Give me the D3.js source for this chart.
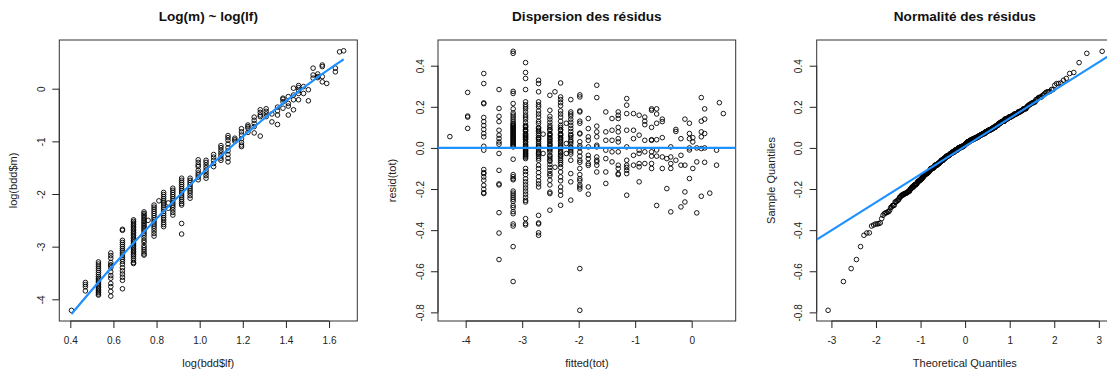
<!doctype html>
<html>
<head>
<meta charset="utf-8">
<script src="https://d3js.org/d3.v7.min.js"></script>
<style>
  body { margin: 0; background: #fff; }
  text { font-family: "Liberation Sans", Arial, sans-serif; }
</style>
</head>
<body>
<svg id="svg1" width="1107" height="374"></svg>
<script>
// ---- panel 1 : log(bdd$m) ~ log(bdd$lf), one list of log(m) per lf value
var p1Lf = [1.5, 1.6, 1.7, 1.8, 1.9, 2.0, 2.1, 2.14, 2.2, 2.25, 2.3, 2.35, 2.4, 2.5, 2.6, 2.7, 2.8, 2.9, 3.0, 3.1,
            3.2, 3.3, 3.4, 3.5, 3.6, 3.7, 3.8, 3.9, 4.0, 4.1, 4.2, 4.3, 4.4, 4.5, 4.6, 4.7, 4.8, 4.9, 5.1, 5.2, 5.3];
var p1LogM = [
  [-4.21],
  [-3.68, -3.72, -3.76, -3.84],
  [-3.29, -3.33, -3.37, -3.41, -3.45, -3.49, -3.53, -3.57, -3.60, -3.63, -3.66, -3.69, -3.72, -3.75, -3.78, -3.81, -3.84, -3.87, -3.90, -3.92],
  [-3.12, -3.17, -3.22, -3.30, -3.35, -3.35, -3.40, -3.48, -3.55, -3.60, -3.70, -3.76, -3.85, -3.94],
  [-2.67, -2.69, -2.88, -2.92, -2.96, -3.00, -3.04, -3.08, -3.12, -3.16, -3.20, -3.24, -3.28, -3.33, -3.40, -3.46, -3.52, -3.58, -3.64, -3.80],
  [-2.49, -2.52, -2.55, -2.58, -2.61, -2.64, -2.67, -2.70, -2.73, -2.76, -2.79, -2.82, -2.85, -2.88, -2.91, -2.94, -2.97, -3.00, -3.03, -3.06, -3.09, -3.12, -3.15, -3.18, -3.22, -3.26, -3.30, -3.32],
  [-2.34, -2.37, -2.40, -2.43, -2.46, -2.49, -2.52, -2.55, -2.58, -2.61, -2.64, -2.67, -2.70, -2.74, -2.78, -2.83, -2.88, -2.92, -2.98, -3.02, -3.06, -3.10, -3.14, -3.16],
  [-2.50],
  [-2.21, -2.25, -2.29, -2.33, -2.37, -2.41, -2.45, -2.49, -2.53, -2.57, -2.61, -2.65, -2.70, -2.75, -2.80],
  [-2.13],
  [-1.97, -2.01, -2.05, -2.09, -2.13, -2.17, -2.21, -2.25, -2.29, -2.33, -2.37, -2.41, -2.45, -2.49, -2.54, -2.58, -2.62],
  [-2.17, -2.27],
  [-1.89, -1.93, -1.97, -2.01, -2.05, -2.09, -2.13, -2.17, -2.21, -2.25, -2.30, -2.35, -2.40],
  [-1.70, -1.74, -1.78, -1.82, -1.86, -1.90, -1.94, -1.98, -2.02, -2.06, -2.10, -2.14, -2.18, -2.21, -2.56, -2.76],
  [-1.70, -1.74, -1.78, -1.82, -1.86, -1.90, -1.94, -1.98, -2.03, -2.08],
  [-1.35, -1.40, -1.45, -1.48, -1.55, -1.60, -1.64, -1.68, -1.73],
  [-1.36, -1.40, -1.45, -1.50, -1.55, -1.60, -1.65, -1.70],
  [-1.25, -1.30, -1.36, -1.42, -1.48],
  [-1.08, -1.12, -1.17, -1.22, -1.27, -1.32, -1.36],
  [-0.89, -0.93, -0.98, -1.05, -1.12, -1.18, -1.25, -1.32, -1.39],
  [-0.94, -0.97, -1.00],
  [-0.76, -0.82, -0.88, -0.95, -1.02, -1.07, -1.10],
  [-0.69, -0.72, -0.75, -0.83],
  [-0.54, -0.60, -0.66, -0.72, -0.84],
  [-0.40, -0.45, -0.50, -0.53, -0.90],
  [-0.38, -0.43, -0.48, -0.53],
  [-0.48, -0.63],
  [-0.35, -0.42, -0.50, -0.68],
  [-0.18, -0.20, -0.25, -0.37],
  [-0.15, -0.28, -0.33, -0.50],
  [0.01, -0.12, -0.21, -0.40],
  [0.06, 0.02, -0.04, -0.09, -0.21],
  [0.04, -0.09],
  [-0.02, -0.23],
  [0.39, 0.26, 0.20],
  [0.28, 0.23, 0.21],
  [0.45, 0.42, 0.23, 0.13],
  [0.10],
  [0.39, 0.32],
  [0.70],
  [0.72]
];
// fitted curve of the model, quadratic in log(lf)
var fitCoef = [-6.428, 5.652, -0.877];

// ---- panel 2 : resid(tot) against fitted(tot), one list of residuals per fitted value
var fittedVals = [-4.28, -3.965, -3.68, -3.41, -3.16, -2.94, -2.71, -2.63, -2.51, -2.42, -2.32, -2.22, -2.14, -1.98,
                  -1.83, -1.68, -1.52, -1.41, -1.30, -1.15, -1.03, -0.93, -0.83, -0.71, -0.62, -0.52, -0.44, -0.37,
                  -0.28, -0.19, -0.12, -0.04, 0.02, 0.09, 0.17, 0.23, 0.32, 0.44, 0.49, 0.56];
var residVals = [
  [0.055],
  [0.27, 0.155, 0.15, 0.095],
  [0.362, 0.313, 0.219, 0.215, 0.148, 0.128, 0.109, 0.09, 0.07, 0.054, 0.008, -0.011, -0.105, -0.12, -0.125, -0.141, -0.157, -0.182, -0.201, -0.218, -0.222],
  [0.284, 0.192, 0.154, 0.128, 0.086, 0.062, 0.046, 0.029, 0.018, -0.027, -0.109, -0.175, -0.18, -0.315, -0.414, -0.543],
  [0.47, 0.46, 0.275, 0.265, 0.216, 0.19, 0.17, 0.16, 0.15, 0.14, 0.13, 0.12, 0.115, 0.11, 0.105, 0.10, 0.095, 0.09, 0.085, 0.08, 0.075,
   0.07, 0.065, 0.06, 0.055, 0.05, 0.045, 0.04, 0.035, 0.03, 0.025, 0.02, 0.015, 0.01, 0.005,
   -0.055, -0.13, -0.14, -0.15, -0.155, -0.21, -0.22, -0.23, -0.24, -0.25, -0.26, -0.28, -0.29, -0.31, -0.32, -0.37, -0.38, -0.48, -0.65],
  [0.415, 0.367, 0.338, 0.284, 0.224, 0.21, 0.2, 0.19, 0.175, 0.16, 0.15, 0.14, 0.125, 0.11, 0.105, 0.1, 0.09, 0.085, 0.08, 0.07, 0.065,
   0.06, 0.055, 0.05, 0.045, 0.04, 0.03, 0.025, 0.015, 0.01, 0.005, 0.0,
   -0.005, -0.01, -0.015, -0.02, -0.025, -0.03, -0.035, -0.04, -0.045, -0.052, -0.1, -0.115, -0.13, -0.15, -0.165, -0.18, -0.195, -0.21,
   -0.225, -0.24, -0.255, -0.263, -0.344, -0.368, -0.375],
  [0.329, 0.313, 0.273, 0.224, 0.21, 0.2, 0.18, 0.165, 0.15, 0.13, 0.119, 0.1, 0.095, 0.086, 0.08, 0.07, 0.06, 0.05, 0.045, 0.04, 0.03,
   0.02, 0.01, 0.005, 0.0, -0.01, -0.02, -0.025, -0.03, -0.04, -0.05, -0.06, -0.084, -0.1, -0.12, -0.14, -0.16, -0.175, -0.19,
   -0.328, -0.365, -0.37, -0.413, -0.425],
  [0.067, -0.027],
  [0.256, 0.183, 0.154, 0.14, 0.125, 0.11, 0.1, 0.09, 0.085, 0.07, 0.065, 0.06, 0.05, 0.045, 0.037, 0.03, 0.021, 0.015, 0.01, 0.0,
   -0.005, -0.01, -0.02, -0.035, -0.04, -0.05, -0.06, -0.065, -0.08, -0.095, -0.11, -0.125, -0.135, -0.157, -0.18, -0.215, -0.222, -0.303],
  [0.273, -0.094],
  [0.316, 0.248, 0.235, 0.22, 0.205, 0.18, 0.165, 0.15, 0.13, 0.11, 0.1, 0.09, 0.085, 0.07, 0.065, 0.06, 0.05, 0.045, 0.037, 0.03,
   0.02, 0.01, 0.005, 0.0, -0.01, -0.02, -0.025, -0.035, -0.04, -0.05, -0.06, -0.07, -0.08, -0.095, -0.117, -0.141, -0.16, -0.19,
   -0.21, -0.23, -0.279],
  [0.12, 0.021, -0.027],
  [0.235, 0.175, 0.165, 0.155, 0.14, 0.125, 0.11, 0.095, 0.08, 0.065, 0.06, 0.05, 0.037, 0.03, 0.02, 0.005, 0.0, -0.01, -0.02, -0.03,
   -0.06, -0.125, -0.165, -0.254],
  [0.258, 0.248, 0.18, 0.175, 0.13, 0.12, 0.072, 0.068, 0.03, 0.01, 0.0, -0.02, -0.04, -0.06, -0.07, -0.1, -0.13, -0.15, -0.16, -0.18, -0.19, -0.2, -0.587, -0.79],
  [0.143, 0.094, 0.054, 0.037, 0.005, -0.036, -0.052, -0.076, -0.085, -0.19, -0.225],
  [0.305, 0.245, 0.106, 0.078, 0.054, 0.013, 0.005, -0.044, -0.06, -0.068, -0.084, -0.117],
  [0.175, 0.078, 0.037, -0.011, -0.052, -0.117, -0.173],
  [0.143, 0.086, 0.037, -0.019, -0.068],
  [0.175, 0.159, 0.143, 0.1, 0.078, 0.045, 0.029, -0.019, -0.084, -0.1, -0.125, -0.13],
  [0.24, 0.208, 0.167, 0.086, 0.005, -0.06, -0.084, -0.095, -0.109, -0.125, -0.23],
  [0.167, 0.086, 0.045, -0.036, -0.084],
  [0.159, 0.062, -0.011, -0.027, -0.076, -0.092, -0.165],
  [0.15, 0.13, 0.113, 0.037, -0.019, -0.076],
  [0.19, 0.183, 0.1, 0.04, 0.037, -0.019, -0.04, -0.076, -0.1],
  [0.19, 0.165, 0.12, 0.04, -0.01, -0.04, -0.28],
  [0.14, 0.128, 0.05, -0.044, -0.1],
  [-0.052, -0.198],
  [0.005, -0.044, -0.076, -0.1, -0.311],
  [0.09, 0.08, -0.06],
  [0.045, -0.036, -0.084, -0.287],
  [0.14, -0.084, -0.214, -0.263],
  [0.12, 0.07, 0.045, 0.0, -0.01, -0.149],
  [0.05, 0.029, -0.1],
  [0.0, -0.068, -0.316],
  [0.245, 0.13, 0.078, 0.054, -0.003, -0.235],
  [0.19, 0.14, 0.07, 0.0, -0.07],
  [-0.22],
  [-0.011, -0.084],
  [0.22],
  [0.167]
];

// ---- axes limits and ticks
var p1XLim = [0.349, 1.731], p1YLim = [-4.412, 0.925];
var p2XLim = [-4.49, 0.779], residLim = [-0.842, 0.525];
var p3XLim = [-3.33, 3.316];
var p1XTicks = [0.4, 0.6, 0.8, 1.0, 1.2, 1.4, 1.6], p1YTicks = [-4, -3, -2, -1, 0];
var p2XTicks = [-4, -3, -2, -1, 0], residTicks = [-0.8, -0.6, -0.4, -0.2, 0.0, 0.2, 0.4];
var p3XTicks = [-3, -2, -1, 0, 1, 2, 3];

var titles = ["Log(m) ~ log(lf)", "Dispersion des résidus", "Normalité des résidus"];
var xLabels = ["log(bdd$lf)", "fitted(tot)", "Theoretical Quantiles"];
var yLabels = ["log(bdd$m)", "resid(tot)", "Sample Quantiles"];

var blue = "#1e90ff";
var svg = d3.select("#svg1");
var boxTop = 40, boxBottom = 321;

function rnum(d, digits) {
  return (digits ? d.toFixed(digits) : String(d)).replace("\u2212", "-");
}

function panel(o) {
  var x = d3.scaleLinear().domain(o.xDom).range([o.left, o.right]);
  var y = d3.scaleLinear().domain(o.yDom).range([boxBottom, boxTop]);
  var g = svg.append("g");

  svg.append("clipPath").attr("id", "clip" + o.id)
     .append("rect")
     .attr("x", o.left).attr("y", boxTop)
     .attr("width", o.right - o.left).attr("height", boxBottom - boxTop);

  // x axis
  var ax = g.append("g")
     .attr("transform", "translate(0," + boxBottom + ")")
     .attr("font-size", 11).attr("font-family", "Liberation Sans, Arial, sans-serif").attr("color", "#222")
     .call(d3.axisBottom(x).tickValues(o.xTicks).tickSize(7).tickSizeOuter(0)
           .tickFormat(function(d) { return rnum(d, o.xDig); }));
  ax.select(".domain").attr("d", "M" + x(o.xTicks[0]) + ",0H" + x(o.xTicks[o.xTicks.length - 1]));
  ax.selectAll(".tick text").attr("y", 23).attr("dy", null);

  // y axis, labels parallel to the axis
  var ay = g.append("g")
     .attr("transform", "translate(" + o.left + ",0)")
     .attr("font-size", 11).attr("font-family", "Liberation Sans, Arial, sans-serif").attr("color", "#222")
     .call(d3.axisLeft(y).tickValues(o.yTicks).tickSize(7).tickSizeOuter(0)
           .tickFormat(function(d) { return rnum(d, o.yDig); }));
  ay.select(".domain").attr("d", "M0," + y(o.yTicks[0]) + "V" + y(o.yTicks[o.yTicks.length - 1]));
  ay.selectAll(".tick text")
    .attr("transform", "rotate(-90)")
    .attr("x", 0).attr("y", -14.5).attr("dy", null)
    .attr("text-anchor", "middle");

  // box
  g.append("rect")
   .attr("x", o.left).attr("y", boxTop)
   .attr("width", o.right - o.left).attr("height", boxBottom - boxTop)
   .attr("fill", "none").attr("stroke", "#333").attr("stroke-width", 1);

  var cx = (o.left + o.right) / 2;
  g.append("text").attr("x", cx).attr("y", 21)
   .attr("text-anchor", "middle").attr("font-size", "13.6px").attr("font-weight", "bold").attr("fill", "#111")
   .text(o.title);
  g.append("text").attr("x", cx).attr("y", 367)
   .attr("text-anchor", "middle").attr("font-size", "11px").attr("fill", "#222")
   .text(o.xLabel);
  g.append("text")
   .attr("transform", "translate(" + (o.left - 42) + "," + ((boxTop + boxBottom) / 2) + ") rotate(-90)")
   .attr("text-anchor", "middle").attr("font-size", "11px").attr("fill", "#222")
   .text(o.yLabel);

  var plot = svg.append("g").attr("clip-path", "url(#clip" + o.id + ")");
  return { x: x, y: y, plot: plot };
}

function drawPoints(p, pts) {
  p.plot.selectAll("circle.pt")
   .data(pts).enter().append("circle")
   .attr("class", "pt")
   .attr("cx", function(d) { return p.x(d[0]); })
   .attr("cy", function(d) { return p.y(d[1]); })
   .attr("r", 2.3)
   .attr("fill", "none").attr("stroke", "#000").attr("stroke-width", 0.9);
}

// inverse normal cdf (Acklam)
function qnorm(p) {
  var a = [-3.969683028665376e+01, 2.209460984245205e+02, -2.759285104469687e+02, 1.383577518672690e+02, -3.066479806614716e+01, 2.506628277459239e+00];
  var b = [-5.447609879822406e+01, 1.615858368580409e+02, -1.556989798598866e+02, 6.680131188771972e+01, -1.328068155288572e+01];
  var c = [-7.784894002430293e-03, -3.223964580411365e-01, -2.400758277161838e+00, -2.549732539343734e+00, 4.374664141464968e+00, 2.938163982698783e+00];
  var d = [7.784695709041462e-03, 3.224671290700398e-01, 2.445134137142996e+00, 3.754408661907416e+00];
  var pl = 0.02425, q, r;
  if (p < pl) {
    q = Math.sqrt(-2 * Math.log(p));
    return (((((c[0]*q+c[1])*q+c[2])*q+c[3])*q+c[4])*q+c[5]) / ((((d[0]*q+d[1])*q+d[2])*q+d[3])*q+1);
  }
  if (p > 1 - pl) {
    q = Math.sqrt(-2 * Math.log(1 - p));
    return -(((((c[0]*q+c[1])*q+c[2])*q+c[3])*q+c[4])*q+c[5]) / ((((d[0]*q+d[1])*q+d[2])*q+d[3])*q+1);
  }
  q = p - 0.5; r = q * q;
  return (((((a[0]*r+a[1])*r+a[2])*r+a[3])*r+a[4])*r+a[5])*q / (((((b[0]*r+b[1])*r+b[2])*r+b[3])*r+b[4])*r+1);
}

// ---------------- panel 1
var p1 = panel({ id: 1, left: 59.3, right: 357.3, xDom: p1XLim, yDom: p1YLim,
                 xTicks: p1XTicks, yTicks: p1YTicks, xDig: 1, yDig: 0,
                 title: titles[0], xLabel: xLabels[0], yLabel: yLabels[0] });
var p1Pts = [];
p1Lf.forEach(function(lf, i) {
  p1LogM[i].forEach(function(v) { p1Pts.push([Math.log(lf), v]); });
});
drawPoints(p1, p1Pts);
// fitted values, one per lf, joined in order of lf
var curve = p1Lf.map(function(lf) {
  var lx = Math.log(lf);
  return [lx, fitCoef[0] + fitCoef[1] * lx + fitCoef[2] * lx * lx];
});
p1.plot.append("path")
  .datum(curve)
  .attr("d", d3.line().x(function(d) { return p1.x(d[0]); }).y(function(d) { return p1.y(d[1]); }))
  .attr("stroke", blue).attr("stroke-width", 2.2).attr("fill", "none");

// ---------------- panel 2
var p2 = panel({ id: 2, left: 438, right: 735.7, xDom: p2XLim, yDom: residLim,
                 xTicks: p2XTicks, yTicks: residTicks, xDig: 0, yDig: 1,
                 title: titles[1], xLabel: xLabels[1], yLabel: yLabels[1] });
var p2Pts = [];
fittedVals.forEach(function(f, i) {
  residVals[i].forEach(function(r) { p2Pts.push([f, r]); });
});
drawPoints(p2, p2Pts);
p2.plot.append("line")
  .attr("x1", p2.x(p2XLim[0])).attr("x2", p2.x(p2XLim[1]))
  .attr("y1", p2.y(0)).attr("y2", p2.y(0))
  .attr("stroke", blue).attr("stroke-width", 2.2);

// ---------------- panel 3 : normal QQ plot of the same residuals
var p3 = panel({ id: 3, left: 816.7, right: 816.7 + (p3XLim[1] - p3XLim[0]) * 44.57, xDom: p3XLim, yDom: residLim,
                 xTicks: p3XTicks, yTicks: residTicks, xDig: 0, yDig: 1,
                 title: titles[2], xLabel: xLabels[2], yLabel: yLabels[2] });
var sorted = p2Pts.map(function(d) { return d[1]; }).sort(d3.ascending);
var n = sorted.length;
var qqPts = sorted.map(function(v, i) { return [qnorm((i + 0.5) / n), v]; });
drawPoints(p3, qqPts);
var q1 = d3.quantileSorted(sorted, 0.25), q3 = d3.quantileSorted(sorted, 0.75);
var z1 = qnorm(0.25), z3 = qnorm(0.75);
var qqSlope = (q3 - q1) / (z3 - z1), qqInt = q1 - qqSlope * z1;
p3.plot.append("line")
  .attr("x1", p3.x(p3XLim[0])).attr("x2", p3.x(p3XLim[1]))
  .attr("y1", p3.y(qqInt + qqSlope * p3XLim[0])).attr("y2", p3.y(qqInt + qqSlope * p3XLim[1]))
  .attr("stroke", blue).attr("stroke-width", 2.2);
</script>
</body>
</html>
